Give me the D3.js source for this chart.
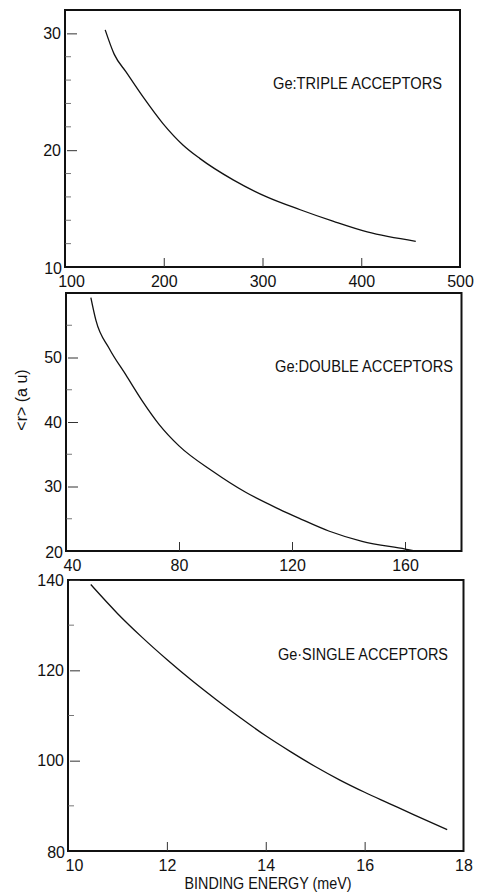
<!DOCTYPE html>
<html>
<head>
<meta charset="utf-8">
<script src="https://cdn.jsdelivr.net/npm/d3@7"></script>
<style>
  body { margin: 0; background: #fff; }
  svg text { font-family: "Liberation Sans", "DejaVu Sans", sans-serif; fill: #111; }
</style>
</head>
<body>
<div id="chart"></div>
<script>
// values
const tripleEnergy = [140.7, 149.9, 161.8, 178.7, 199, 219.4, 236.4, 270.3, 304.3, 338.2, 372, 406, 455.2];
const tripleRadius = [30.3, 28.2, 26.7, 24.6, 22.3, 20.45, 19.3, 17.46, 16.0, 14.9, 13.9, 13.0, 12.2];

const doubleEnergy = [48.8, 50.6, 55.3, 61.2, 67.1, 73.0, 80.0, 91.8, 103.6, 115.4, 122.4, 133, 144.8, 160.1, 163.7];
const doubleRadius = [59.3, 55.75, 51.4, 47.3, 43.2, 39.6, 36.3, 32.4, 29.1, 26.5, 25.1, 23.1, 21.5, 20.3, 20.0];

const singleEnergy = [10.46, 11.0, 11.5, 12.0, 12.5, 13.0, 13.5, 14.0, 14.5, 15.0, 15.5, 16.0, 16.5, 17.0, 17.67];
const singleRadius = [139.0, 132.6, 127.3, 122.4, 117.8, 113.5, 109.4, 105.5, 102.0, 98.7, 95.7, 93.0, 90.5, 88.0, 84.75];

const tripleXTicks = [100, 200, 300, 400, 500];
const tripleYTicks = [10, 20, 30];
const tripleYMinor = [12, 14, 16, 18, 22, 24, 26, 28];
const doubleXTicks = [40, 80, 120, 160];
const doubleYTicks = [20, 30, 40, 50];
const doubleYMinor = [25, 35, 45, 55];
const singleXTicks = [10, 12, 14, 16, 18];
const singleYTicks = [80, 100, 120, 140];
const singleYMinor = [90, 110, 130];

const labels = ["Ge:TRIPLE ACCEPTORS", "Ge:DOUBLE ACCEPTORS", "Ge\u00b7SINGLE ACCEPTORS"];

const width = 477, height = 892;
const svg = d3.select("#chart").append("svg")
    .attr("width", width)
    .attr("height", height);

const panels = [
  { x: tripleEnergy, y: tripleRadius, xd: [100, 500], yd: [10, 32], xt: tripleXTicks, yt: tripleYTicks, ym: tripleYMinor,
    box: { l: 65, r: 460, t: 10, b: 267 }, label: labels[0], lx: 273, ly: 89, lw: 169 },
  { x: doubleEnergy, y: doubleRadius, xd: [40, 180], yd: [20, 60], xt: doubleXTicks, yt: doubleYTicks, ym: doubleYMinor,
    box: { l: 66, r: 461.5, t: 293, b: 551 }, label: labels[1], lx: 275, ly: 372, lw: 178 },
  { x: singleEnergy, y: singleRadius, xd: [10, 18], yd: [80, 140], xt: singleXTicks, yt: singleYTicks, ym: singleYMinor,
    box: { l: 68, r: 463.5, t: 580, b: 851 }, label: labels[2], lx: 278, ly: 660, lw: 170 }
];

panels.forEach(function(p, i) {
  const x = d3.scaleLinear().domain(p.xd).range([p.box.l, p.box.r]);
  const y = d3.scaleLinear().domain(p.yd).range([p.box.b, p.box.t]);
  const g = svg.append("g");

  // frame
  g.append("rect")
    .attr("x", p.box.l).attr("y", p.box.t)
    .attr("width", p.box.r - p.box.l).attr("height", p.box.b - p.box.t)
    .attr("fill", "none").attr("stroke", "#111").attr("stroke-width", 2);

  // left axis, ticks pointing inward
  const yAxis = d3.axisLeft(y).tickValues(p.yt.filter(v => v != p.yd[0])).tickSize(-10).tickPadding(4);
  const ya = g.append("g").attr("transform", `translate(${p.box.l + 2},0)`).call(yAxis);
  ya.select(".domain").remove();
  ya.selectAll("text").attr("font-size", 16).attr("x", -6);
  ya.selectAll("line").attr("stroke", "#333").attr("stroke-width", 1);

  // bottom-left corner label
  g.append("text")
    .attr("x", p.box.l - 3).attr("y", y(p.yd[0]) + 7)
    .attr("text-anchor", "end").attr("font-size", 16)
    .text(p.yd[0]);

  g.append("g").selectAll("line")
    .data(p.ym)
    .join("line")
    .attr("x1", p.box.l).attr("x2", p.box.l + 6)
    .attr("y1", d => y(d)).attr("y2", d => y(d))
    .attr("stroke", "#555").attr("stroke-width", 0.8);

  // bottom axis, ticks pointing inward
  const xAxis = d3.axisBottom(x).tickValues(p.xt).tickSize(-9).tickPadding(6);
  const xa = g.append("g").attr("transform", `translate(0,${p.box.b})`).call(xAxis);
  xa.select(".domain").remove();
  xa.selectAll("text").attr("font-size", 16).attr("dy", "0.9em");
  xa.selectAll(".tick")
    .filter(d => d == p.xd[0] || d == p.xd[1])
    .select("line").remove();
  xa.selectAll(".tick").filter(d => d == p.xd[0]).select("text").attr("dx", 6);
  xa.selectAll("line").attr("stroke", "#333").attr("stroke-width", 1);

  // curve
  const pts = p.x.map((v, k) => [v, p.y[k]]);
  g.append("path")
    .datum(pts)
    .attr("fill", "none")
    .attr("stroke", "#111")
    .attr("stroke-width", 1.3)
    .attr("d", d3.line().x(d => x(d[0])).y(d => y(d[1])).curve(d3.curveMonotoneX));

  g.append("text")
    .attr("x", p.lx).attr("y", p.ly)
    .attr("font-size", 16)
    .attr("textLength", p.lw).attr("lengthAdjust", "spacingAndGlyphs")
    .text(p.label);
});

svg.append("text")
  .attr("transform", "translate(27,400) rotate(-90)")
  .attr("text-anchor", "middle")
  .attr("font-size", 16)
  .text("<r> (a u)");

svg.append("text")
  .attr("x", 268).attr("y", 889)
  .attr("text-anchor", "middle")
  .attr("font-size", 16)
  .attr("textLength", 167).attr("lengthAdjust", "spacingAndGlyphs")
  .text("BINDING ENERGY (meV)");
</script>
</body>
</html>
